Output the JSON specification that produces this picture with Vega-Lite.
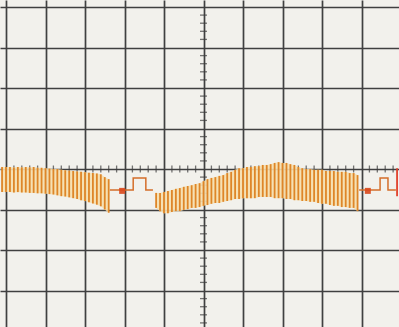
{
  "$schema": "https://vega.github.io/schema/vega-lite/v6.json",
  "width": 399,
  "height": 327,
  "autosize": {"type": "none"},
  "padding": 0,
  "background": "#f2f1ec",
  "config": {"view": {"stroke": null}},
  "datasets": {
    "bars": [
      {"seg":"A","x":-0.1,"top":0.05,"bot":-0.57},
      {"seg":"A","x":0.0,"top":0.05,"bot":-0.57},
      {"seg":"A","x":0.1,"top":0.05,"bot":-0.57},
      {"seg":"A","x":0.2,"top":0.04,"bot":-0.58},
      {"seg":"A","x":0.3,"top":0.05,"bot":-0.57},
      {"seg":"A","x":0.4,"top":0.04,"bot":-0.58},
      {"seg":"A","x":0.5,"top":0.05,"bot":-0.58},
      {"seg":"A","x":0.6,"top":0.04,"bot":-0.59},
      {"seg":"A","x":0.7,"top":0.05,"bot":-0.59},
      {"seg":"A","x":0.8,"top":0.03,"bot":-0.6},
      {"seg":"A","x":0.9,"top":0.03,"bot":-0.6},
      {"seg":"A","x":1.0,"top":0.02,"bot":-0.61},
      {"seg":"A","x":1.1,"top":0.01,"bot":-0.62},
      {"seg":"A","x":1.2,"top":0.0,"bot":-0.63},
      {"seg":"A","x":1.3,"top":0.0,"bot":-0.65},
      {"seg":"A","x":1.4,"top":-0.02,"bot":-0.67},
      {"seg":"A","x":1.5,"top":-0.03,"bot":-0.68},
      {"seg":"A","x":1.6,"top":-0.04,"bot":-0.7},
      {"seg":"A","x":1.7,"top":-0.05,"bot":-0.72},
      {"seg":"A","x":1.8,"top":-0.06,"bot":-0.74},
      {"seg":"A","x":1.9,"top":-0.07,"bot":-0.77},
      {"seg":"A","x":2.0,"top":-0.08,"bot":-0.79},
      {"seg":"A","x":2.1,"top":-0.09,"bot":-0.82},
      {"seg":"A","x":2.2,"top":-0.1,"bot":-0.85},
      {"seg":"A","x":2.3,"top":-0.11,"bot":-0.88},
      {"seg":"A","x":2.4,"top":-0.13,"bot":-0.92},
      {"seg":"A","x":2.5,"top":-0.2,"bot":-1.0},
      {"seg":"A","x":2.6,"top":-0.25,"bot":-1.08},
      {"seg":"B","x":3.8,"top":-0.59,"bot":-0.96},
      {"seg":"B","x":3.9,"top":-0.59,"bot":-1.04},
      {"seg":"B","x":4.0,"top":-0.57,"bot":-1.09},
      {"seg":"B","x":4.1,"top":-0.54,"bot":-1.09},
      {"seg":"B","x":4.2,"top":-0.52,"bot":-1.06},
      {"seg":"B","x":4.3,"top":-0.49,"bot":-1.04},
      {"seg":"B","x":4.4,"top":-0.47,"bot":-1.04},
      {"seg":"B","x":4.5,"top":-0.44,"bot":-1.01},
      {"seg":"B","x":4.6,"top":-0.42,"bot":-0.99},
      {"seg":"B","x":4.7,"top":-0.4,"bot":-0.96},
      {"seg":"B","x":4.8,"top":-0.37,"bot":-0.96},
      {"seg":"B","x":4.9,"top":-0.35,"bot":-0.94},
      {"seg":"B","x":5.0,"top":-0.3,"bot":-0.91},
      {"seg":"B","x":5.1,"top":-0.25,"bot":-0.89},
      {"seg":"B","x":5.2,"top":-0.22,"bot":-0.86},
      {"seg":"B","x":5.3,"top":-0.2,"bot":-0.84},
      {"seg":"B","x":5.4,"top":-0.17,"bot":-0.84},
      {"seg":"B","x":5.5,"top":-0.15,"bot":-0.81},
      {"seg":"B","x":5.6,"top":-0.1,"bot":-0.79},
      {"seg":"B","x":5.7,"top":-0.07,"bot":-0.77},
      {"seg":"B","x":5.8,"top":-0.02,"bot":-0.74},
      {"seg":"B","x":5.9,"top":0.02,"bot":-0.74},
      {"seg":"B","x":6.0,"top":0.02,"bot":-0.72},
      {"seg":"B","x":6.1,"top":0.05,"bot":-0.72},
      {"seg":"B","x":6.2,"top":0.05,"bot":-0.72},
      {"seg":"B","x":6.3,"top":0.07,"bot":-0.72},
      {"seg":"B","x":6.4,"top":0.07,"bot":-0.69},
      {"seg":"B","x":6.5,"top":0.1,"bot":-0.69},
      {"seg":"B","x":6.6,"top":0.1,"bot":-0.69},
      {"seg":"B","x":6.7,"top":0.12,"bot":-0.69},
      {"seg":"B","x":6.8,"top":0.15,"bot":-0.72},
      {"seg":"B","x":6.9,"top":0.17,"bot":-0.72},
      {"seg":"B","x":7.0,"top":0.15,"bot":-0.72},
      {"seg":"B","x":7.1,"top":0.15,"bot":-0.74},
      {"seg":"B","x":7.2,"top":0.12,"bot":-0.74},
      {"seg":"B","x":7.3,"top":0.1,"bot":-0.77},
      {"seg":"B","x":7.4,"top":0.05,"bot":-0.77},
      {"seg":"B","x":7.5,"top":0.02,"bot":-0.79},
      {"seg":"B","x":7.6,"top":0.0,"bot":-0.79},
      {"seg":"B","x":7.7,"top":0.0,"bot":-0.81},
      {"seg":"B","x":7.8,"top":-0.02,"bot":-0.81},
      {"seg":"B","x":7.9,"top":-0.02,"bot":-0.84},
      {"seg":"B","x":8.0,"top":-0.02,"bot":-0.86},
      {"seg":"B","x":8.1,"top":-0.05,"bot":-0.86},
      {"seg":"B","x":8.2,"top":-0.05,"bot":-0.89},
      {"seg":"B","x":8.3,"top":-0.05,"bot":-0.91},
      {"seg":"B","x":8.4,"top":-0.07,"bot":-0.91},
      {"seg":"B","x":8.5,"top":-0.07,"bot":-0.94},
      {"seg":"B","x":8.6,"top":-0.07,"bot":-0.94},
      {"seg":"B","x":8.7,"top":-0.1,"bot":-0.96},
      {"seg":"B","x":8.8,"top":-0.1,"bot":-0.96},
      {"seg":"B","x":8.9,"top":-0.15,"bot":-1.04}
    ],
    "steps": [
      {"seg":"S1","x":2.63,"y":-0.52},
      {"seg":"S1","x":3.22,"y":-0.22},
      {"seg":"S1","x":3.54,"y":-0.52},
      {"seg":"S1","x":3.72,"y":-0.52},
      {"seg":"S2","x":8.94,"y":-0.52},
      {"seg":"S2","x":9.47,"y":-0.22},
      {"seg":"S2","x":9.67,"y":-0.52},
      {"seg":"S2","x":9.87,"y":-0.52}
    ],
    "markers": [
      {"x":2.94,"y":-0.54},
      {"x":9.16,"y":-0.54}
    ],
    "redline": [
      {"x":9.9,"top":0.02,"bot":-0.67}
    ],
    "hticks": [
      {"p":0.2},{"p":0.4},{"p":0.6},{"p":0.8},
      {"p":1.2},{"p":1.4},{"p":1.6},{"p":1.8},
      {"p":2.2},{"p":2.4},{"p":2.6},{"p":2.8},
      {"p":3.2},{"p":3.4},{"p":3.6},{"p":3.8},
      {"p":4.2},{"p":4.4},{"p":4.6},{"p":4.8},
      {"p":5.2},{"p":5.4},{"p":5.6},{"p":5.8},
      {"p":6.2},{"p":6.4},{"p":6.6},{"p":6.8},
      {"p":7.2},{"p":7.4},{"p":7.6},{"p":7.8},
      {"p":8.2},{"p":8.4},{"p":8.6},{"p":8.8},
      {"p":9.2},{"p":9.4},{"p":9.6},{"p":9.8}
    ],
    "vticks": [
      {"p":-3.8},{"p":-3.6},{"p":-3.4},{"p":-3.2},
      {"p":-2.8},{"p":-2.6},{"p":-2.4},{"p":-2.2},
      {"p":-1.8},{"p":-1.6},{"p":-1.4},{"p":-1.2},
      {"p":-0.8},{"p":-0.6},{"p":-0.4},{"p":-0.2},
      {"p":0.2},{"p":0.4},{"p":0.6},{"p":0.8},
      {"p":1.2},{"p":1.4},{"p":1.6},{"p":1.8},
      {"p":2.2},{"p":2.4},{"p":2.6},{"p":2.8},
      {"p":3.2},{"p":3.4},{"p":3.6},{"p":3.8}
    ]
  },
  "layer": [
    {
      "data": {"name": "hticks"},
      "mark": {"type": "tick", "orient": "vertical", "size": 7, "thickness": 1.3, "color": "#3c3c3c"},
      "encoding": {
        "x": {"field": "p", "type": "quantitative",
              "scale": {"domain": [-0.152, 9.949], "nice": false, "zero": false},
              "axis": {"values": [0,1,2,3,4,5,6,7,8,9,10], "grid": true, "gridColor": "#404040", "gridWidth": 1.7, "gridOpacity": 1, "labels": false, "ticks": false, "domain": false, "title": null}},
        "y": {"datum": 0, "type": "quantitative",
              "scale": {"domain": [-3.901, 4.173], "nice": false, "zero": false},
              "axis": {"values": [-4,-3,-2,-1,0,1,2,3,4], "grid": true, "gridColor": "#404040", "gridWidth": 1.7, "gridOpacity": 1, "labels": false, "ticks": false, "domain": false, "title": null}}
      }
    },
    {
      "data": {"name": "vticks"},
      "mark": {"type": "tick", "orient": "horizontal", "size": 7, "thickness": 1.3, "color": "#3c3c3c"},
      "encoding": {
        "y": {"field": "p", "type": "quantitative"},
        "x": {"datum": 5, "type": "quantitative"}
      }
    },
    {
      "data": {"name": "bars"},
      "mark": {"type": "area", "color": "#f6dfae", "opacity": 0.9},
      "encoding": {
        "x": {"field": "x", "type": "quantitative"},
        "y": {"field": "top", "type": "quantitative"},
        "y2": {"field": "bot"},
        "detail": {"field": "seg"}
      }
    },
    {
      "data": {"name": "bars"},
      "mark": {"type": "rule", "color": "#de8628", "strokeWidth": 1.8},
      "encoding": {
        "x": {"field": "x", "type": "quantitative"},
        "y": {"field": "top", "type": "quantitative"},
        "y2": {"field": "bot"}
      }
    },
    {
      "data": {"name": "steps"},
      "mark": {"type": "line", "interpolate": "step-after", "color": "#d46e2a", "strokeWidth": 1.5},
      "encoding": {
        "x": {"field": "x", "type": "quantitative"},
        "y": {"field": "y", "type": "quantitative"},
        "detail": {"field": "seg"}
      }
    },
    {
      "data": {"name": "markers"},
      "mark": {"type": "square", "color": "#d9481c", "opacity": 0.9, "size": 36},
      "encoding": {
        "x": {"field": "x", "type": "quantitative"},
        "y": {"field": "y", "type": "quantitative"}
      }
    },
    {
      "data": {"name": "redline"},
      "mark": {"type": "rule", "color": "#e0402a", "strokeWidth": 1.8},
      "encoding": {
        "x": {"field": "x", "type": "quantitative"},
        "y": {"field": "top", "type": "quantitative"},
        "y2": {"field": "bot"}
      }
    }
  ]
}
